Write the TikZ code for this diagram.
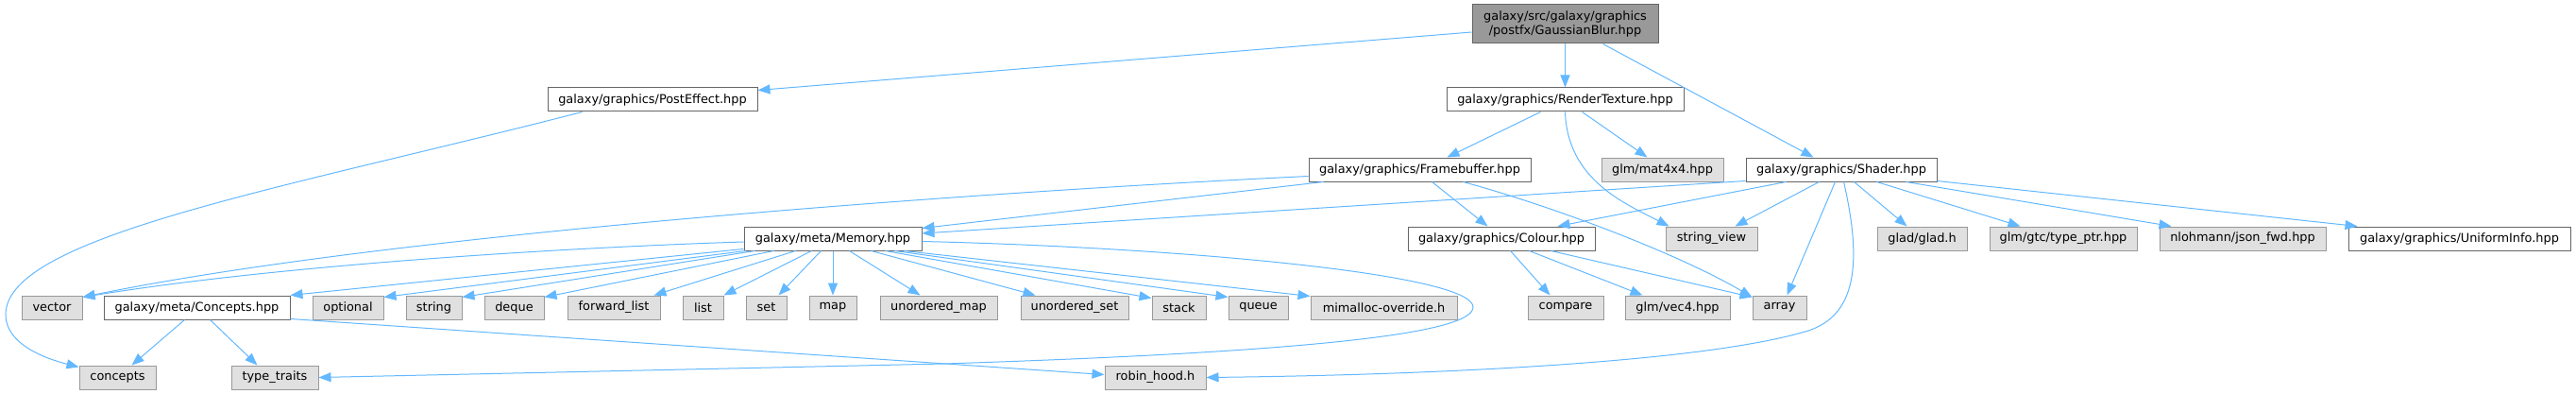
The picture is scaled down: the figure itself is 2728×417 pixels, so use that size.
\documentclass[tikz,border=0pt]{standalone}
\usepackage{fontspec}
\setmainfont{DejaVu Sans}
\usetikzlibrary{arrows.meta,calc}
\definecolor{edgeblue}{HTML}{63B8FF}
\definecolor{greyfill}{HTML}{E0E0E0}
\definecolor{greyline}{HTML}{999999}
\definecolor{darkline}{HTML}{666666}
\definecolor{mainfill}{HTML}{999999}
\tikzset{
  box/.style={draw=darkline, fill=white, line width=1pt, inner sep=0pt, minimum height=25pt,
    font=\fontsize{12.9}{15}\selectfont, text=black},
  sysbox/.style={box, draw=greyline, fill=greyfill},
  mainbox/.style={box, fill=mainfill, minimum height=41pt, align=center},
  edge/.style={draw=edgeblue, line width=1pt, -{Triangle[length=13pt,width=10pt]}}
}
\begin{document}
\begin{tikzpicture}[x=1pt,y=-1pt]
\useasboundingbox (0,0) rectangle (2728,417);
% row 0
\node[mainbox, minimum width=197pt] (gb) at (1657.5,25.5) {galaxy/src/galaxy/graphics\\/postfx/GaussianBlur.hpp};
% row 1
\node[box, minimum width=222pt] (pe) at (691,105.5) {galaxy/graphics/PostEffect.hpp};
\node[box, minimum width=251pt] (rt) at (1657.5,105.5) {galaxy/graphics/RenderTexture.hpp};
% row 2
\node[box, minimum width=235pt] (fb) at (1503.5,179.5) {galaxy/graphics/Framebuffer.hpp};
\node[sysbox, minimum width=129pt] (m44) at (1760.5,179.5) {glm/mat4x4.hpp};
\node[box, minimum width=202pt] (sh) at (1950,179.5) {galaxy/graphics/Shader.hpp};
% row 3
\node[box, minimum width=188pt] (mem) at (882,252.5) {galaxy/meta/Memory.hpp};
\node[box, minimum width=198pt] (col) at (1590,252.5) {galaxy/graphics/Colour.hpp};
\node[sysbox, minimum width=97pt] (sv) at (1812.5,252.5) {string\_view};
\node[sysbox, minimum width=95pt] (glad) at (2035.5,252.5) {glad/glad.h};
\node[sysbox, minimum width=156pt] (tp) at (2185,252.5) {glm/gtc/type\_ptr.hpp};
\node[sysbox, minimum width=176pt] (json) at (2375,252.5) {nlohmann/json\_fwd.hpp};
\node[box, minimum width=235pt] (ui) at (2604.5,252.5) {galaxy/graphics/UniformInfo.hpp};
% row 4
\node[sysbox, minimum width=64pt] (vec) at (55,325.5) {vector};
\node[box, minimum width=197pt] (con) at (208.5,325.5) {galaxy/meta/Concepts.hpp};
\node[sysbox, minimum width=75pt] (opt) at (368.5,325.5) {optional};
\node[sysbox, minimum width=59pt] (str) at (459.5,325.5) {string};
\node[sysbox, minimum width=63pt] (deq) at (544.5,325.5) {deque};
\node[sysbox, minimum width=98pt] (fl) at (650,325.5) {forward\_list};
\node[sysbox, minimum width=43pt] (lst) at (744.5,325.5) {list};
\node[sysbox, minimum width=43pt] (set) at (811.5,325.5) {set};
\node[sysbox, minimum width=50pt] (map) at (882,325.5) {map};
\node[sysbox, minimum width=124pt] (umap) at (994,325.5) {unordered\_map};
\node[sysbox, minimum width=114pt] (uset) at (1138,325.5) {unordered\_set};
\node[sysbox, minimum width=57pt] (stk) at (1248.5,325.5) {stack};
\node[sysbox, minimum width=63pt] (que) at (1332.5,325.5) {queue};
\node[sysbox, minimum width=155pt] (mim) at (1465.5,325.5) {mimalloc-override.h};
\node[sysbox, minimum width=80pt] (cmp) at (1658,325.5) {compare};
\node[sysbox, minimum width=111pt] (vec4) at (1776.5,325.5) {glm/vec4.hpp};
\node[sysbox, minimum width=57pt] (arr) at (1884.5,325.5) {array};
% row 5
\node[sysbox, minimum width=81pt] (cpts) at (124.5,399.5) {concepts};
\node[sysbox, minimum width=92pt] (tt) at (291,399.5) {type\_traits};
\node[sysbox, minimum width=107pt] (rh) at (1223.5,399.5) {robin\_hood.h};

% GaussianBlur
\draw[edge] ($(gb.west)+(0,8.5)$) -- ($(pe.north east)+(0,3)$);
\draw[edge] (gb.south) -- (rt.north);
\draw[edge] ($(gb.south west)+(139,0)$) -- ($(sh.north west)+(72,0)$);
% PostEffect
\draw[edge] ($(pe.south west)+(37,0)$) .. controls (300,200) and (6,250) .. (6,333)
  .. controls (6,365) and (50,380) .. ($(cpts.north west)+(0,2)$);
% RenderTexture
\draw[edge] ($(rt.south west)+(100,0)$) -- ($(fb.north west)+(147,0)$);
\draw[edge] ($(rt.south west)+(144,0)$) -- ($(m44.north west)+(49,0)$);
\draw[edge] (rt.south) .. controls (1660,190) and (1720,215) .. ($(sv.north west)+(4,0)$);
% Framebuffer
\draw[edge] ($(fb.west)+(0,7)$) .. controls (1000,205) and (400,250) .. ($(vec.north east)+(0,2)$);
\draw[edge] ($(fb.south west)+(16,0)$) -- ($(mem.north east)+(0,2)$);
\draw[edge] ($(fb.south west)+(131,0)$) -- ($(col.north west)+(85,0)$);
\draw[edge] ($(fb.south west)+(164,0)$) .. controls (1650,220) and (1780,270) .. ($(arr.north west)+(0,2)$);
% Shader
\draw[edge] ($(sh.south west)+(0,-1)$) -- ($(mem.east)+(0,-5.5)$);
\draw[edge] ($(sh.south west)+(43,0)$) -- ($(col.north west)+(159,0)$);
\draw[edge] ($(sh.south west)+(78,0)$) -- ($(sv.north east)+(-24,0)$);
\draw[edge] ($(sh.south west)+(95,0)$) -- ($(arr.north west)+(37,0)$);
\draw[edge] ($(sh.south west)+(104,0)$) .. controls (1975,290) and (1960,335) .. (1915,350)
  .. controls (1800,385) and (1500,397) .. (rh.east);
\draw[edge] ($(sh.south west)+(115,0)$) -- ($(glad.north west)+(32,0)$);
\draw[edge] ($(sh.south west)+(139,0)$) -- ($(tp.north west)+(33,0)$);
\draw[edge] ($(sh.south west)+(170,0)$) -- ($(json.north west)+(13,0)$);
\draw[edge] ($(sh.south east)+(0,-1)$) -- ($(ui.north west)+(10,0)$);
% Colour
\draw[edge] ($(col.south west)+(109,0)$) -- ($(cmp.north west)+(24,0)$);
\draw[edge] ($(col.south west)+(129,0)$) -- ($(vec4.north west)+(19,0)$);
\draw[edge] ($(col.south west)+(152,0)$) -- ($(arr.north west)+(0,2)$);
% Memory
\draw[edge] ($(mem.west)+(0,3.5)$) .. controls (600,262) and (300,280) .. ($(vec.north east)+(0,2)$);
\draw[edge] ($(mem.south west)+(0,-2)$) -- (con.north east);
\draw[edge] ($(mem.south west)+(2,0)$) -- ($(opt.north east)+(0,2)$);
\draw[edge] ($(mem.south west)+(12,0)$) -- ($(str.north east)+(0,2)$);
\draw[edge] ($(mem.south west)+(32,0)$) -- ($(deq.north east)+(0,2)$);
\draw[edge] ($(mem.south west)+(55,0)$) -- ($(fl.north west)+(92,0)$);
\draw[edge] ($(mem.south west)+(72,0)$) -- (lst.north east);
\draw[edge] ($(mem.south west)+(82,0)$) -- ($(set.north west)+(35,0)$);
\draw[edge] (mem.south) -- (map.north);
\draw[edge] ($(mem.south west)+(112,0)$) -- ($(umap.north west)+(43,0)$);
\draw[edge] ($(mem.south west)+(135,0)$) -- ($(uset.north west)+(16,0)$);
\draw[edge] ($(mem.south west)+(150,0)$) -- ($(stk.north west)+(0,3)$);
\draw[edge] ($(mem.south west)+(160,0)$) -- ($(que.north west)+(0,2)$);
\draw[edge] ($(mem.south west)+(170,0)$) -- ($(mim.north west)+(0,1)$);
\draw[edge] ($(mem.east)+(0,3)$) .. controls (1250,262) and (1560,290) .. (1560,325)
  .. controls (1560,352) and (1400,372) .. (1000,385) -- (tt.east);
% Concepts
\draw[edge] ($(con.south west)+(86,0)$) -- ($(cpts.north west)+(56,0)$);
\draw[edge] ($(con.south west)+(113,0)$) -- ($(tt.north west)+(28,0)$);
\draw[edge] ($(con.south east)+(0,-1)$) -- ($(rh.west)+(0,-3)$);
\end{tikzpicture}
\end{document}
